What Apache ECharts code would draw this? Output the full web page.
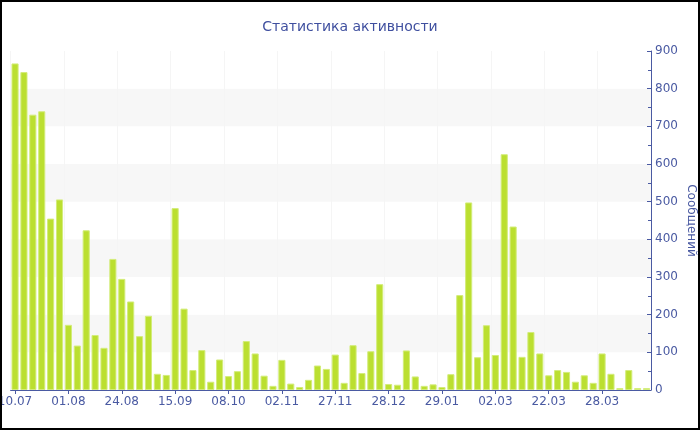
<!DOCTYPE html>
<html>
<head>
<meta charset="utf-8">
<script src="https://cdn.jsdelivr.net/npm/echarts@6/dist/echarts.min.js"></script>
<style>
html,body{margin:0;padding:0;background:#fff;}
#chart{width:700px;height:430px;}
</style>
</head>
<body>
<div id="chart"></div>
<script>
var tickLabels = ['10.07','01.08','24.08','15.09','08.10','02.11','27.11','28.12','29.01','02.03','22.03','28.03'];
var values = [867,844,731,740,455,506,173,118,424,146,112,348,
              295,235,143,197,43,40,483,216,53,106,22,81,
              37,50,130,97,38,11,80,17,8,27,65,56,
              94,19,119,45,103,281,16,14,105,36,11,15,
              8,42,252,498,87,172,93,626,434,88,154,97,
              39,53,48,22,39,19,97,43,5,53,5,5];
var categories = values.map(function(v, i){ return (i % 6 === 0) ? (tickLabels[i/6] || '') : ''; });

var chart = echarts.init(document.getElementById('chart'));
var blue = '#4a5aa2';
chart.setOption({
  animation: false,
  textStyle: {fontFamily: 'DejaVu Sans'},
  title: {
    text: 'Статистика активности',
    left: 'center', top: 15,
    textStyle: {fontFamily: 'DejaVu Sans', fontSize: 14, fontWeight: 'normal', color: '#3f4f9f'}
  },
  graphic: [{
    type: 'rect', silent: true, z: 100,
    shape: {x: 1, y: 1, width: 698, height: 428},
    style: {fill: 'none', stroke: '#000', lineWidth: 2}
  }],
  grid: {left: 10.6, right: 49, top: 51, bottom: 40, containLabel: false, outerBoundsMode: 'none'},
  xAxis: {
    type: 'category',
    data: categories,
    axisLine: {lineStyle: {color: blue, width: 1}},
    axisTick: {show: true, interval: 5, alignWithLabel: true, length: 4, lineStyle: {color: blue}},
    axisLabel: {interval: 5, color: blue, fontSize: 12, margin: 6, fontFamily: 'DejaVu Sans'},
    splitLine: {show: true, interval: 5, lineStyle: {color: '#f5f5f5', width: 1}}
  },
  yAxis: {
    type: 'value',
    position: 'right',
    min: 0, max: 900, interval: 100,
    name: 'Сообщений',
    nameLocation: 'middle',
    nameRotate: -90,
    nameGap: 34,
    nameMoveOverlap: false,
    nameTextStyle: {color: blue, fontSize: 12, fontFamily: 'DejaVu Sans'},
    axisLine: {show: true, lineStyle: {color: blue, width: 1}},
    axisTick: {show: true, inside: true, length: 4, lineStyle: {color: blue}},
    minorTick: {show: true, splitNumber: 2, length: 3, lineStyle: {color: blue}},
    axisLabel: {color: blue, fontSize: 12, margin: 4, fontFamily: 'DejaVu Sans'},
    splitLine: {show: false},
    splitArea: {show: true, areaStyle: {color: ['#ffffff', '#f7f7f7']}}
  },
  series: [{
    type: 'bar',
    data: values,
    barCategoryGap: '20%',
    itemStyle: {color: '#bbdf30', borderColor: '#d3ec7a', borderWidth: 1}
  }]
});
</script>
</body>
</html>
